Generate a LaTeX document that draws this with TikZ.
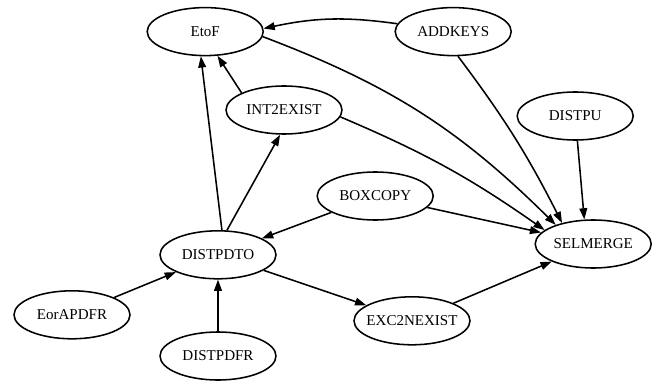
\documentclass[tikz,border=0pt]{standalone}
\usepackage{fontspec}
\setmainfont{Liberation Serif}
\usetikzlibrary{shapes.geometric,arrows.meta}

\begin{document}
\begin{tikzpicture}[>={Triangle[length=8pt,width=5.5pt]},
    proc/.style={ellipse, draw, line width=1.1pt, minimum width=2.9cm,
      minimum height=1.2cm, inner xsep=-5pt, inner ysep=0pt,
      font=\fontsize{10.7}{12}\selectfont},
    dep/.style={->, line width=1.1pt}]
  \useasboundingbox (0,0) rectangle (16.375,9.55);

  % Wezly
  \node[proc] (etof)    at (5.13, 8.76)  {EtoF};
  \node[proc] (addkeys) at (11.33, 8.76) {ADDKEYS};
  \node[proc] (int2ex)  at (7.10, 6.80)  {INT2EXIST};
  \node[proc] (distpu)  at (14.38, 6.65) {DISTPU};
  \node[proc] (boxcopy) at (9.38, 4.65)  {BOXCOPY};
  \node[proc] (selmrg)  at (14.83, 3.45) {SELMERGE};
  \node[proc] (distto)  at (5.45, 3.18)  {DISTPDTO};
  \node[proc] (eorap)   at (1.80, 1.68)  {EorAPDFR};
  \node[proc] (distfr)  at (5.45, 0.65)  {DISTPDFR};
  \node[proc] (exc2nex) at (10.30, 1.53) {EXC2NEXIST};

  % Zaleznosci
  \draw[dep] (addkeys.172) to[bend right=10] (etof.3);
  \draw[dep] (etof.-5) to[bend left=12] (selmrg.153);
  \draw[dep] (addkeys.-79) to[bend left=5] (selmrg.146);
  \draw[dep] (int2ex.-7) to[bend left=6] (selmrg.164);
  \draw[dep] (distpu) -- (selmrg.110);
  \draw[dep] (boxcopy) -- (selmrg);
  \draw[dep] (exc2nex) -- (selmrg);
  \draw[dep] (boxcopy) -- (distto);
  \draw[dep] (distto.81) -- (etof.-100);
  \draw[dep] (int2ex.158) -- (etof.-63);
  \draw[dep] (distto.70) -- (int2ex.-99);
  \draw[dep] (distto) -- (exc2nex);
  \draw[dep] (eorap) -- (distto);
  \draw[dep] (distfr) -- (distto);
\end{tikzpicture}
\end{document}
